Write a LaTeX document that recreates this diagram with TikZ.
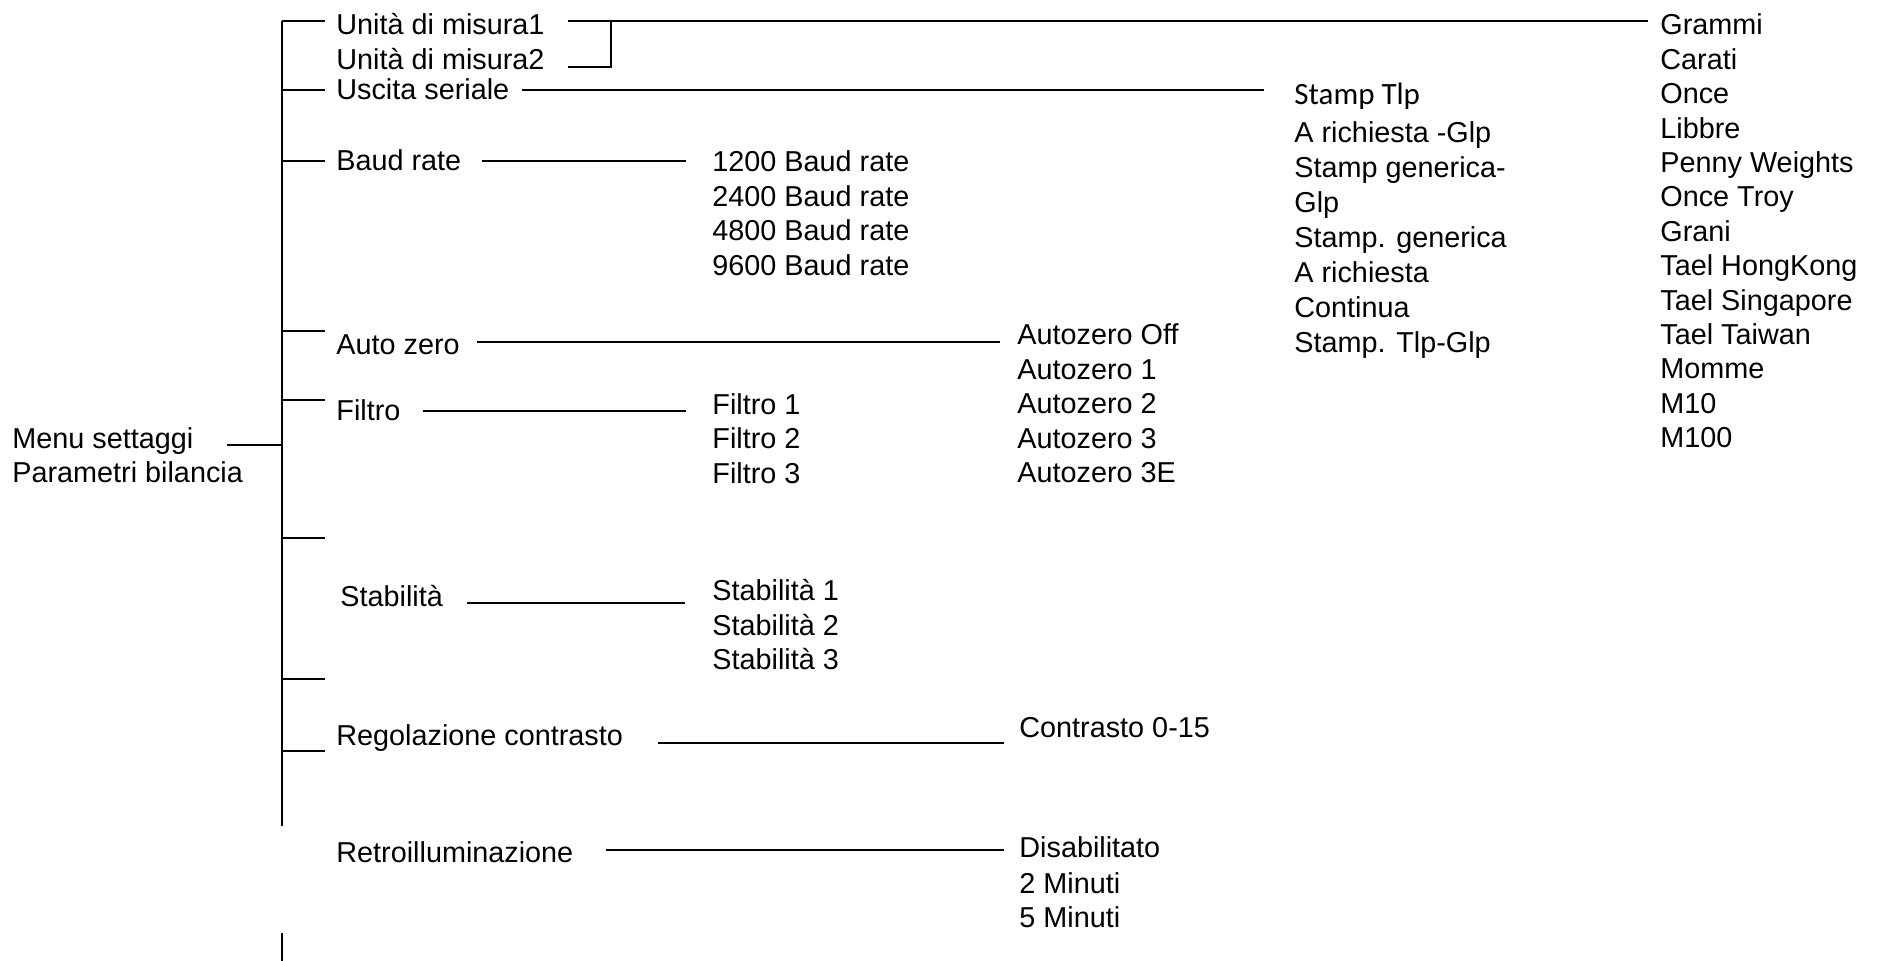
\documentclass[tikz,border=0pt]{standalone}
\usepackage{fontspec}
\setmainfont{Liberation Sans}
\newfontfamily\stampfont{Carlito}
\usepackage{tikz}

\newcommand{\menufont}{\fontsize{14.4}{17.25}\selectfont}

\begin{document}
\begin{tikzpicture}[x=0.5pt,y=-0.5pt,
	voce/.style={anchor=base west,inner sep=0pt,font=\menufont},
	link/.style={line width=1.1pt}]
	\useasboundingbox (0,0) rectangle (1900,961);
	% tronco principale
	\coordinate (t-top) at (282,21);
	\coordinate (t-bot) at (282,826);
	\coordinate (t2-top) at (282,933);
	\coordinate (t2-bot) at (282,961);
	\draw[link] (t-top) -- (t-bot);
	\draw[link] (t2-top) -- (t2-bot);
	\foreach \y/\n in {21/a,90/b,161/c,331/d,400/e,538/f,679/g,751/h}
		\draw[link] (t-top |- 0,\y) coordinate (tick-\n) -- ++(43,0);
	% radice
	\node[voce] (menu) at (12,449) {Menu settaggi};
	\node[voce] (param) at (12,483) {Parametri bilancia};
	\coordinate (menu-r) at (227,445);
	\draw[link] (menu-r) -- (t-top |- menu-r);
	% primo livello
	\node[voce] (um1) at (336,35) {Unità di misura1};
	\node[voce] (um2) at (336,70) {Unità di misura2};
	\node[voce] (uscita) at (336,100) {Uscita seriale};
	\node[voce] (baud) at (336,171) {Baud rate};
	\node[voce] (autozero) at (336,355) {Auto zero};
	\node[voce] (filtro) at (336,421) {Filtro};
	\node[voce] (stab) at (340,607) {Stabilità};
	\node[voce] (contr) at (336,746) {Regolazione contrasto};
	\node[voce] (retro) at (336,862) {Retroilluminazione};
	% unita di misura
	\foreach \t [count=\i from 0] in {Grammi,Carati,Once,Libbre,Penny Weights,Once Troy,Grani,Tael HongKong,Tael Singapore,Tael Taiwan,Momme,M10,M100}
		\node[voce] (unita-\i) at (1660,{35+34.4*\i}) {\t};
	\coordinate (um-a) at (568,21);
	\coordinate (um-b) at (568,67);
	\coordinate (um-c) at (611,21);
	\coordinate (um-d) at (1648,21);
	\draw[link] (um-a) -- (um-d);
	\draw[link] (um-b) -| (um-c);
	% uscita seriale
	\node[voce,font=\stampfont\fontsize{15.5}{18}\selectfont] (stamp-0) at (1294,105) {Stamp Tlp};
	\foreach \t [count=\i from 1] in {A richiesta -Glp,Stamp generica-,Glp,Stamp. generica,A richiesta,Continua,Stamp. Tlp-Glp}
		\node[voce] (stamp-\i) at (1294,{108+35*\i}) {\t};
	\coordinate (us-a) at (522,90);
	\coordinate (us-b) at (1264,90);
	\draw[link] (us-a) -- (us-b);
	% baud rate
	\foreach \t [count=\i from 0] in {1200,2400,4800,9600}
		\node[voce] (br-\i) at (712,{172+34.4*\i}) {\t\ Baud rate};
	\coordinate (br-a) at (482,161);
	\coordinate (br-b) at (686,161);
	\draw[link] (br-a) -- (br-b);
	% auto zero
	\foreach \t [count=\i from 0] in {Off,1,2,3,3E}
		\node[voce] (az-\i) at (1017,{345+34.5*\i}) {Autozero \t};
	\coordinate (az-a) at (477,342);
	\coordinate (az-b) at (1000,342);
	\draw[link] (az-a) -- (az-b);
	% filtro
	\foreach \i in {1,2,3}
		\node[voce] (fl-\i) at (712,{380+34.5*\i}) {Filtro \i};
	\coordinate (fl-a) at (423,411);
	\coordinate (fl-b) at (686,411);
	\draw[link] (fl-a) -- (fl-b);
	% stabilita
	\foreach \i in {1,2,3}
		\node[voce] (st-\i) at (712,{566.5+34.5*\i}) {Stabilità \i};
	\coordinate (st-a) at (467,603);
	\coordinate (st-b) at (685,603);
	\draw[link] (st-a) -- (st-b);
	% contrasto
	\node[voce] (ct-0) at (1019,737) {Contrasto 0-15};
	\coordinate (ct-a) at (658,743);
	\coordinate (ct-b) at (1004,743);
	\draw[link] (ct-a) -- (ct-b);
	% retroilluminazione
	\node[voce] (rt-0) at (1019,857) {Disabilitato};
	\node[voce] (rt-1) at (1019,893) {2 Minuti};
	\node[voce] (rt-2) at (1019,927) {5 Minuti};
	\coordinate (rt-a) at (606,850);
	\coordinate (rt-b) at (1004,850);
	\draw[link] (rt-a) -- (rt-b);
\end{tikzpicture}
\end{document}
